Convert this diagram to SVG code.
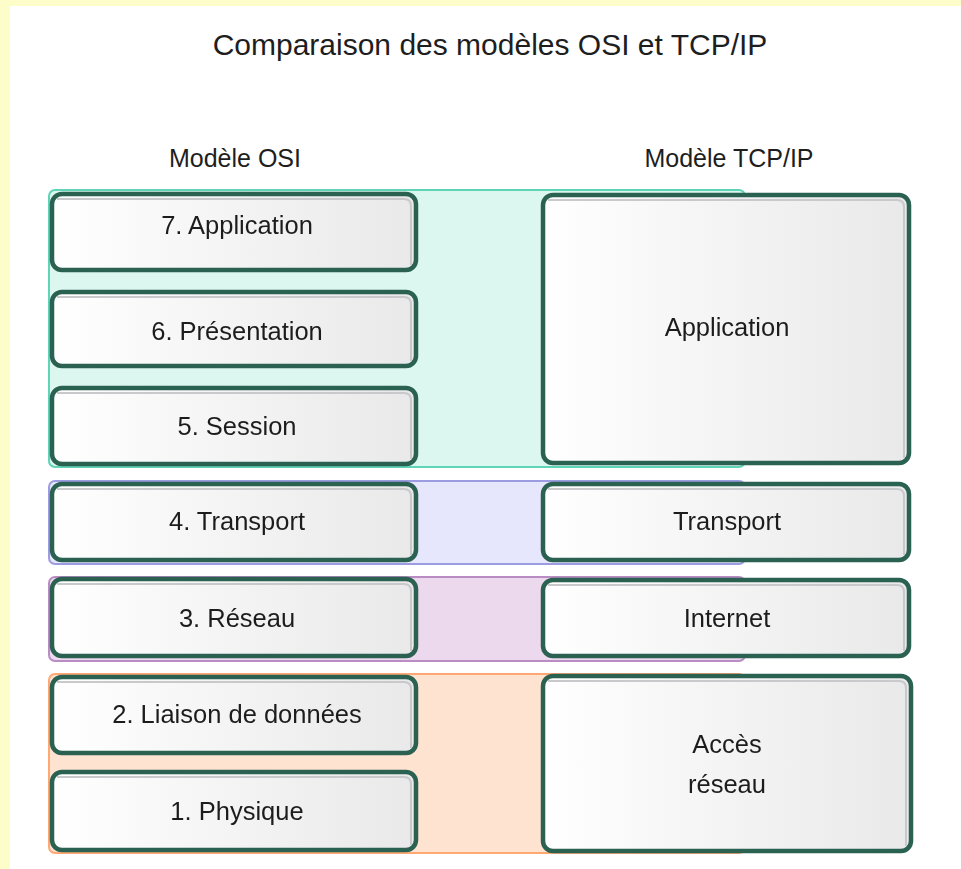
<svg xmlns="http://www.w3.org/2000/svg" width="961" height="869" viewBox="0 0 961 869">
  <defs>
    <linearGradient id="boxFill" x1="0" y1="0" x2="1" y2="0">
      <stop offset="0" stop-color="#ffffff"/>
      <stop offset="0.35" stop-color="#f7f7f8"/>
      <stop offset="1" stop-color="#e9e9ea"/>
    </linearGradient>
    <filter id="soft" x="-5%" y="-20%" width="110%" height="140%">
      <feGaussianBlur stdDeviation="0.35"/>
    </filter>
  </defs>
  <style>
    .frame { fill: #fdfdc9; }
    .title { font-family: "Liberation Sans", Arial, sans-serif; font-size: 30px; fill: #1e1e1e; text-anchor: middle; }
    .head { font-family: "Liberation Sans", Arial, sans-serif; font-size: 25px; fill: #1e1e1e; text-anchor: middle; }
    .label { font-family: "Liberation Sans", Arial, sans-serif; font-size: 25.5px; fill: #1e1e1e; text-anchor: middle; filter: url(#soft); }
    .box { fill: url(#boxFill); stroke: #2b6151; stroke-width: 4.5; }
    .bevel { fill: none; stroke: #c9c9cb; stroke-width: 2; }
    .band-app { fill: #dcf7f0; stroke: #5fd4b6; stroke-width: 2; }
    .band-tr { fill: #e6e6fc; stroke: #9c9ce2; stroke-width: 2; }
    .band-net { fill: #ecd9ed; stroke: #b98cc4; stroke-width: 2; }
    .band-phy { fill: #ffe3d1; stroke: #ffa874; stroke-width: 2; }
  </style>

  <!-- page background and frame -->
  <rect x="0" y="0" width="961" height="869" fill="#ffffff"/>
  <rect class="frame" x="0" y="0" width="961" height="6"/>
  <rect class="frame" x="0" y="0" width="10" height="869"/>

  <!-- headings -->
  <text class="title" x="490" y="55">Comparaison des modèles OSI et TCP/IP</text>
  <text class="head" x="235" y="167">Modèle OSI</text>
  <text class="head" x="729" y="167">Modèle TCP/IP</text>

  <!-- colour bands grouping corresponding layers -->
  <g id="bands">
    <rect class="band-app" x="49" y="190" width="696" height="277" rx="6"/>
    <rect class="band-tr" x="49" y="481" width="696" height="83" rx="6"/>
    <rect class="band-net" x="49" y="577" width="696" height="84" rx="6"/>
    <rect class="band-phy" x="49" y="674" width="696" height="179" rx="6"/>
  </g>

  <!-- OSI layers -->
  <g id="osi-7">
    <rect class="box" x="52" y="194" width="364" height="76" rx="10"/>
    <path class="bevel" d="M57 199 H404 Q411 199 411 206 V265"/>
    <text class="label" x="237" y="234">7. Application</text>
  </g>
  <g id="osi-6">
    <rect class="box" x="52" y="292" width="364" height="74" rx="10"/>
    <path class="bevel" d="M57 297 H404 Q411 297 411 304 V361"/>
    <text class="label" x="237" y="340">6. Présentation</text>
  </g>
  <g id="osi-5">
    <rect class="box" x="52" y="388" width="364" height="76" rx="10"/>
    <path class="bevel" d="M57 393 H404 Q411 393 411 400 V459"/>
    <text class="label" x="237" y="435">5. Session</text>
  </g>
  <g id="osi-4">
    <rect class="box" x="52" y="484" width="364" height="76" rx="10"/>
    <path class="bevel" d="M57 489 H404 Q411 489 411 496 V555"/>
    <text class="label" x="237" y="530">4. Transport</text>
  </g>
  <g id="osi-3">
    <rect class="box" x="52" y="579" width="364" height="77" rx="10"/>
    <path class="bevel" d="M57 584 H404 Q411 584 411 591 V651"/>
    <text class="label" x="237" y="627">3. Réseau</text>
  </g>
  <g id="osi-2">
    <rect class="box" x="52" y="677" width="364" height="76" rx="10"/>
    <path class="bevel" d="M57 682 H404 Q411 682 411 689 V748"/>
    <text class="label" x="237" y="723">2. Liaison de données</text>
  </g>
  <g id="osi-1">
    <rect class="box" x="52" y="772" width="364" height="78" rx="10"/>
    <path class="bevel" d="M57 777 H404 Q411 777 411 784 V845"/>
    <text class="label" x="237" y="820">1. Physique</text>
  </g>

  <!-- TCP/IP layers -->
  <g id="tcpip-application">
    <rect class="box" x="543" y="195" width="366" height="268" rx="10"/>
    <path class="bevel" d="M548 200 H897 Q904 200 904 207 V458"/>
    <text class="label" x="727" y="336">Application</text>
  </g>
  <g id="tcpip-transport">
    <rect class="box" x="543" y="484" width="366" height="76" rx="10"/>
    <path class="bevel" d="M548 489 H897 Q904 489 904 496 V555"/>
    <text class="label" x="727" y="530">Transport</text>
  </g>
  <g id="tcpip-internet">
    <rect class="box" x="543" y="580" width="366" height="76" rx="10"/>
    <path class="bevel" d="M548 585 H897 Q904 585 904 592 V651"/>
    <text class="label" x="727" y="627">Internet</text>
  </g>
  <g id="tcpip-acces">
    <rect class="box" x="543" y="676" width="368" height="175" rx="10"/>
    <path class="bevel" d="M548 681 H899 Q906 681 906 688 V846"/>
    <text class="label" x="727" y="753">Accès</text>
    <text class="label" x="727" y="793">réseau</text>
  </g>

  <!-- no connectors in this figure -->
  <g id="connectors"/>
</svg>
